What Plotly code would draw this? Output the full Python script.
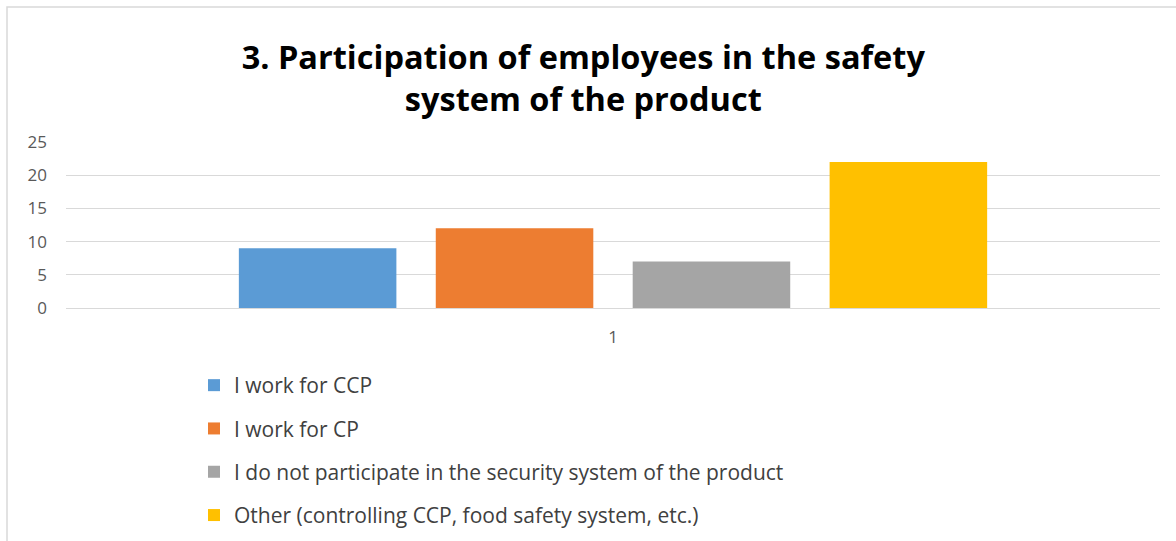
import plotly.graph_objects as go

categories = ["1"]
series_names = [
    "I work for CCP",
    "I work for CP",
    "I do not participate in the security system of the product",
    "Other (controlling CCP, food safety system, etc.)",
]
series_values = [9, 12, 7, 22]
series_colors = ["#5B9BD5", "#ED7D31", "#A5A5A5", "#FFC000"]

W, H = 1176, 541
L, R, T, B = 66, 16, 142, 233

fig = go.Figure()
for i, (name, val, col) in enumerate(zip(series_names, series_values, series_colors)):
    fig.add_trace(go.Bar(x=categories, y=[val], name=name, marker_color=col,
                         marker_line_width=0, legendgroup=f"g{i}"))

pw = W - L - R
ph = H - T - B
fig.add_shape(type="rect", xref="paper", yref="paper",
              x0=(7 - L) / pw, x1=(W + 20 - L) / pw,
              y0=(H - B - (H + 20)) / ph, y1=(H - B - 7) / ph,
              line=dict(color="#D9D9D9", width=1.5), fillcolor="rgba(0,0,0,0)", layer="below")

fig.update_layout(
    width=W, height=H,
    margin=dict(l=L, r=R, t=T, b=B, autoexpand=False),
    paper_bgcolor="white", plot_bgcolor="white",
    barmode="group", bargap=0.28, bargroupgap=0.2,
    title=dict(text="<b>3. Participation of employees in the safety<br>system of the product</b>",
               x=0.496, xanchor="center", y=1 - 69 / H, yanchor="top",
               font=dict(family="Open Sans, Liberation Sans, sans-serif", size=32.5, color="#000000")),
    font=dict(family="Open Sans, Liberation Sans, sans-serif", color="#595959"),
    xaxis=dict(showgrid=False, showline=True, linecolor="#D9D9D9", linewidth=1,
               tickfont=dict(size=17, color="#595959"), ticks="", ticklabelstandoff=14),
    yaxis=dict(range=[0, 25], dtick=5, showgrid=True, gridcolor="#D9D9D9", gridwidth=1,
               zeroline=False, showline=False, tickfont=dict(size=17, color="#595959"),
               ticks="", ticklabelstandoff=18),
    legend=dict(orientation="v", xref="paper", yref="paper",
                x=(194 - L) / pw, xanchor="left", y=(H - B - 365) / ph, yanchor="top",
                font=dict(size=21, color="#404040"), tracegroupgap=13,
                traceorder="grouped", itemwidth=30, bgcolor="rgba(0,0,0,0)"),
    showlegend=True,
)

fig.write_html("out.html")
